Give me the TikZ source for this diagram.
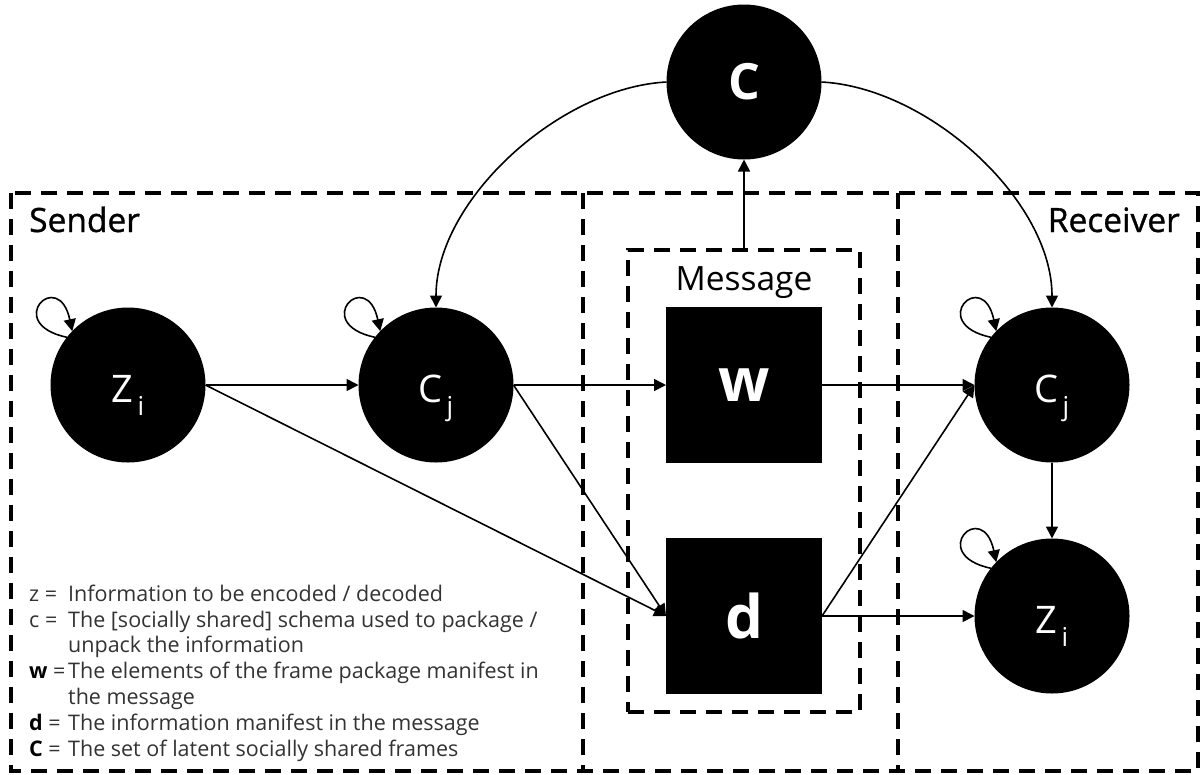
\documentclass[tikz,border=0pt]{standalone}
\usepackage{fontspec}
\setmainfont{Open Sans}
\newfontfamily\headfont[FakeBold=1]{Open Sans}
\usetikzlibrary{arrows.meta}
\definecolor{legendgray}{gray}{0.2}

\begin{document}
\begin{tikzpicture}[x=1pt,y=1pt,
  bubble/.style={circle, fill=black, minimum size=155pt, inner sep=0pt, outer sep=0pt,
                 text=white, font=\fontsize{38}{38}\selectfont, text height=34pt, text depth=0pt},
  block/.style={rectangle, fill=black, minimum size=156pt, inner sep=0pt, outer sep=0pt,
                text=white, font=\bfseries\fontsize{60}{60}\selectfont},
  region/.style={draw, line width=4pt, dash pattern=on 16pt off 10pt},
  link/.style={line width=1.6pt, -{Triangle[length=12pt,width=12pt]}},
  heading/.style={font=\headfont\fontsize{33.5}{33.5}\selectfont, inner sep=0pt},
  legendtext/.style={anchor=base west, inner sep=0pt, text=legendgray,
                     font=\fontsize{21.5}{21.5}\selectfont}
]
\useasboundingbox (0,0) rectangle (1204,-774);

% lowered index for the variable names
\newcommand{\lowsub}[1]{\hspace{4pt}\smash{\raisebox{-13pt}{\fontsize{26}{26}\selectfont #1}}}

% regions: sender | channel | receiver
\path[region] (11,-193) rectangle (1198,-771);
\path[region] (583,-193) -- (583,-771);
\path[region] (898,-193) -- (898,-771);
\node[region, rectangle, minimum width=232pt, minimum height=462pt, inner sep=0pt, outer sep=0pt]
  (msg) at (744,-481) {};

\node[heading, anchor=base west] (sendlbl) at (29,-232) {Sender};
\node[heading, anchor=base east] (recvlbl) at (1180,-232) {Receiver};
\node[inner sep=0pt, anchor=base, font=\fontsize{33.5}{33.5}\selectfont] (msglbl) at (744,-290) {Message};

% variables
\node[bubble] (zs) at (128,-385) {Z\lowsub{i}};
\node[bubble] (cs) at (436,-385) {C\lowsub{j}};
\node[bubble, font=\bfseries\fontsize{50}{50}\selectfont, text height=, text depth=] (top) at (744,-82) {C};
\node[block] (w) at (744,-385) {w};
\node[block] (d) at (744,-616) {d};
\node[bubble] (cr) at (1052,-385) {C\lowsub{j}};
\node[bubble] (zr) at (1052,-616) {Z\lowsub{i}};

% dependencies
\draw[link] (zs.east) -- (cs.west);
\draw[link] (zs.east) -- (d.west);
\draw[link] (cs.east) -- (w.west);
\draw[link] (cs.east) -- (d.west);
\draw[link] (w.east) -- (cr.west);
\draw[link] (d.east) -- (cr.west);
\draw[link] (d.east) -- (zr.west);
\draw[link] (cr.south) -- (zr.north);
\draw[link] (msg.north) -- (top.south);
\draw[link] (top.west) to[out=183,in=90,looseness=0.85] (cs.north);
\draw[link] (top.east) to[out=-3,in=90,looseness=0.85] (cr.north);

% self-transitions
\foreach \n in {zs,cs,cr,zr}
  \draw[link] (\n.142) .. controls +(168:66) and +(102:66) .. (\n.136);

% legend
\node[legendtext] (l1a) at (29,-601) {z =};
\node[legendtext] (l1b) at (68,-601) {Information to be encoded / decoded};
\node[legendtext] (l2a) at (29,-627) {c =};
\node[legendtext] (l2b) at (68,-627) {The [socially shared] schema used to package /};
\node[legendtext] (l3b) at (68,-652) {unpack the information};
\node[legendtext] (l4a) at (29,-678) {\textcolor{black}{\bfseries w} =};
\node[legendtext] (l4b) at (68,-678) {The elements of the frame package manifest in};
\node[legendtext] (l5b) at (68,-704) {the message};
\node[legendtext] (l6a) at (29,-730) {\textcolor{black}{\bfseries d} =};
\node[legendtext] (l6b) at (68,-730) {The information manifest in the message};
\node[legendtext] (l7a) at (29,-756) {\textcolor{black}{\bfseries C} =};
\node[legendtext] (l7b) at (68,-756) {The set of latent socially shared frames};
\end{tikzpicture}
\end{document}
